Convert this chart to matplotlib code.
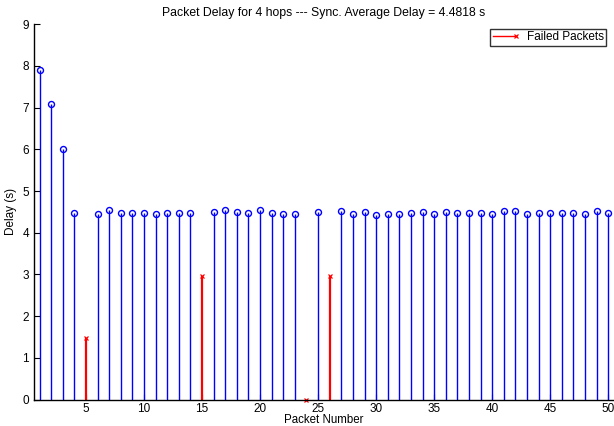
import numpy as np
import matplotlib
matplotlib.use("Agg")
import matplotlib.pyplot as plt
from matplotlib.lines import Line2D

plt.rcParams['font.family'] = ['Liberation Sans', 'DejaVu Sans']

# Delivered packets: packet number and end-to-end delay (s)
ok_packets = [1, 2, 3, 4, 6, 7, 8, 9, 10, 11, 12, 13, 14, 16, 17, 18, 19, 20,
              21, 22, 23, 25, 27, 28, 29, 30, 31, 32, 33, 34, 35, 36, 37, 38,
              39, 40, 41, 42, 43, 44, 45, 46, 47, 48, 49, 50]
ok_delay = [7.90, 7.10, 6.00, 4.47, 4.45, 4.54, 4.47, 4.47, 4.47, 4.45, 4.47,
            4.47, 4.47, 4.49, 4.54, 4.51, 4.48, 4.54, 4.47, 4.45, 4.45, 4.50,
            4.53, 4.45, 4.49, 4.42, 4.46, 4.45, 4.47, 4.49, 4.46, 4.49, 4.47,
            4.47, 4.48, 4.45, 4.53, 4.53, 4.45, 4.48, 4.47, 4.47, 4.48, 4.45,
            4.53, 4.47]

# Packets that failed and the time at which they were dropped
failed_packets = [5, 15, 24, 26]
failed_delay = [1.48, 2.97, 0.0, 2.97]

x_ticks = [5, 10, 15, 20, 25, 30, 35, 40, 45, 50]
y_ticks = [0, 1, 2, 3, 4, 5, 6, 7, 8, 9]

fig = plt.figure(figsize=(6.14, 4.26), dpi=100)
ax = fig.add_axes([0.055, 0.062, 0.945, 0.881])

ax.vlines(ok_packets, 0, ok_delay, colors='#0000ff', linewidth=1.0, zorder=2)
ax.plot(ok_packets, ok_delay, linestyle='none', marker='o', markersize=4.3,
        markerfacecolor='none', markeredgecolor='#0000ff', markeredgewidth=1.0,
        zorder=3)

ax.vlines(failed_packets, 0, failed_delay, colors='#ff0000', linewidth=1.6, zorder=2)
ax.plot(failed_packets, failed_delay, linestyle='none', marker='x', markersize=3.2,
        markeredgecolor='#ff0000', markeredgewidth=0.9, zorder=4, clip_on=False)

ax.set_xlim(0.5, 50.5)
ax.set_ylim(0, 9)
ax.set_xticks(x_ticks)
ax.set_yticks(y_ticks)
ax.tick_params(direction='in', length=4, width=0.8, labelsize=8.5, colors='black')
ax.tick_params(axis='x', pad=2.5)
for side in ('top', 'right'):
    ax.spines[side].set_visible(False)
for side in ('left', 'bottom'):
    ax.spines[side].set_linewidth(1.0)
    ax.spines[side].set_zorder(5)

ax.set_title('Packet Delay for 4 hops --- Sync. Average Delay = 4.4818 s',
             fontsize=8.8, pad=6)
ax.set_xlabel('Packet Number', fontsize=8.3)
ax.xaxis.set_label_coords(0.5, -0.038)
ax.xaxis.label.set_verticalalignment('top')
ax.set_ylabel('Delay (s)', fontsize=8.5, labelpad=4)

leg = ax.legend([Line2D([0], [0], color='#ff0000', linewidth=1.0, marker='x',
                        markersize=3.2, markeredgewidth=0.9)],
                ['Failed Packets'], loc='upper right', fontsize=8.5,
                frameon=True, fancybox=False, edgecolor='black',
                borderaxespad=0.3, handlelength=2.0, handletextpad=0.9,
                borderpad=0.2, bbox_to_anchor=(0.993, 0.997))
leg.get_frame().set_linewidth(1.0)
# put the cross at the right end of the legend line
lh = leg.legend_handles[0]
lh.set_markevery([2])

fig.savefig('out.png', dpi=100)
